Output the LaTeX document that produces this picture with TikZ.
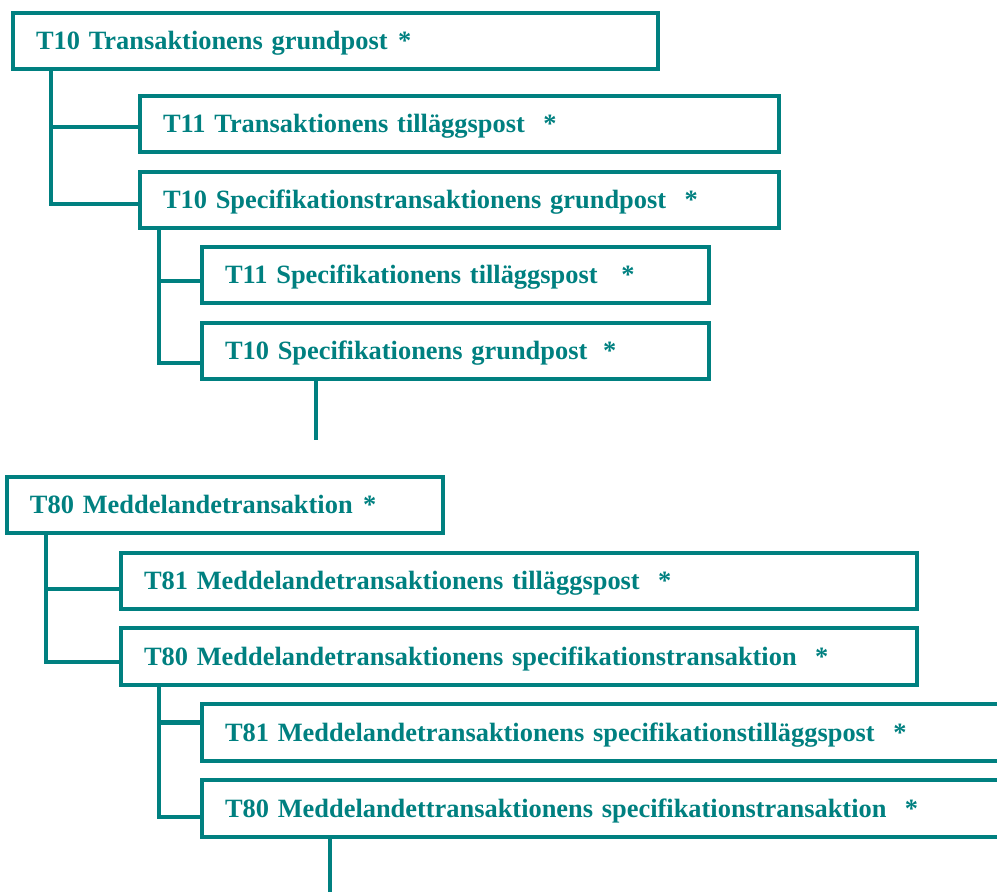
\documentclass[tikz,border=0pt]{standalone}
\usepackage{fontspec}
\setmainfont{Liberation Serif}
\definecolor{tealc}{HTML}{008080}
\tikzset{
  box/.style={draw=tealc, line width=4.8pt, anchor=north west, outer sep=0pt,
    inner xsep=23pt, inner ysep=0pt, minimum height=56pt,
    text height=17.5pt, text depth=0pt, align=left, text=tealc,
    font=\fontsize{26.4}{30}\selectfont\bfseries},
  conn/.style={draw=tealc, line width=4.8pt, line join=miter}
}
\begin{document}
\begin{tikzpicture}[x=1pt,y=1pt]
\useasboundingbox (0,0) rectangle (997,-892);
\node[box, text width=599pt] (b1) at (13,-13) {T10 Transaktionens grundpost\hspace{0.4em}*};
\node[box, text width=593pt] (b2) at (140,-96) {T11 Transaktionens tilläggspost\hspace{0.7em}*};
\node[box, text width=593pt] (b3) at (140,-172) {T10 Specifikationstransaktionens grundpost\hspace{0.7em}*};
\node[box, text width=461pt] (b4) at (202,-247) {T11 Specifikationens tilläggspost\hspace{0.9em}*};
\node[box, text width=461pt] (b5) at (202,-323) {T10 Specifikationens grundpost\hspace{0.6em}*};
\node[box, text width=390pt] (b6) at (7,-477) {T80 Meddelandetransaktion\hspace{0.4em}*};
\node[box, text width=750pt] (b7) at (121,-553) {T81 Meddelandetransaktionens tilläggspost\hspace{0.7em}*};
\node[box, text width=750pt, minimum height=57pt] (b8) at (121,-628) {T80 Meddelandetransaktionens specifikationstransaktion\hspace{0.7em}*};
\node[box, text width=774pt, minimum height=57pt] (b9) at (202,-704) {T81 Meddelandetransaktionens specifikationstilläggspost\hspace{0.7em}*};
\node[box, text width=774pt, minimum height=57pt] (b10) at (202,-780) {T80 Meddelandettransaktionens specifikationstransaktion\hspace{0.7em}*};

\coordinate (t1) at (51,-69);
\draw[conn] (t1) |- ([yshift=-4pt]b3.west);
\draw[conn] ([yshift=-3pt]b2.west) -- ([yshift=-3pt]b2.west -| t1);

\coordinate (t2) at (159,-228);
\draw[conn] (t2) |- ([yshift=-12pt]b5.west);
\draw[conn] ([yshift=-6pt]b4.west) -- ([yshift=-6pt]b4.west -| t2);

\coordinate (e1) at (316,-440);
\draw[conn] (b5.south -| e1) -- (e1);

\coordinate (t3) at (46,-533);
\draw[conn] (t3) |- ([yshift=-5.5pt]b8.west);
\draw[conn] ([yshift=-8pt]b7.west) -- ([yshift=-8pt]b7.west -| t3);

\coordinate (t4) at (159,-685);
\draw[conn] (t4) |- ([yshift=-8.5pt]b10.west);
\draw[conn] ([yshift=10pt]b9.west) -- ([yshift=10pt]b9.west -| t4);

\coordinate (e2) at (330,-900);
\draw[conn] (b10.south -| e2) -- (e2);
\end{tikzpicture}
\end{document}
